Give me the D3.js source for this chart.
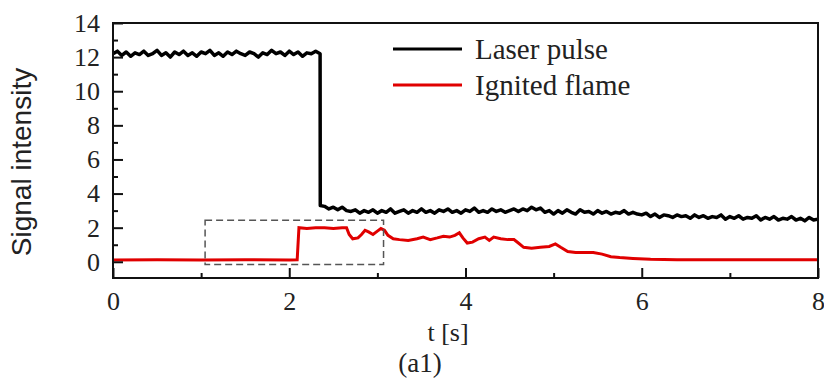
<!DOCTYPE html>
<html>
<head>
<meta charset="utf-8">
<script src="https://cdnjs.cloudflare.com/ajax/libs/d3/7.8.5/d3.min.js"></script>
<style>
    body { margin: 0; background: #fff; }
    svg { display: block; }
</style>
</head>
<body>
<script>
// signal traces, [t (s), intensity]
const laserPulse = [
    [0.00, 12.2], [0.05, 12.35], [0.10, 12.1], [0.15, 12.3], [0.20, 12.05], [0.25, 12.25],
    [0.30, 12.15], [0.35, 12.35], [0.40, 12.1], [0.45, 12.2], [0.50, 12.4], [0.55, 12.1],
    [0.60, 12.25], [0.65, 12.0], [0.70, 12.3], [0.75, 12.15], [0.80, 12.35], [0.85, 12.1],
    [0.90, 12.25], [0.95, 12.05], [1.00, 12.3], [1.05, 12.2], [1.10, 12.4], [1.15, 12.1],
    [1.20, 12.25], [1.25, 12.05], [1.30, 12.3], [1.35, 12.15], [1.40, 12.35], [1.45, 12.2],
    [1.50, 12.1], [1.55, 12.3], [1.60, 12.2], [1.65, 12.0], [1.70, 12.25], [1.75, 12.15],
    [1.80, 12.4], [1.85, 12.2], [1.90, 12.3], [1.95, 12.1], [2.00, 12.35], [2.05, 12.15],
    [2.10, 12.3], [2.15, 12.05], [2.20, 12.25], [2.25, 12.2], [2.30, 12.35], [2.35, 12.2],
    [2.352, 3.3], [2.40, 3.25], [2.45, 3.1], [2.50, 3.2], [2.55, 3.05], [2.60, 3.2],
    [2.65, 3.0], [2.70, 2.95], [2.75, 3.05], [2.80, 2.85], [2.85, 3.0], [2.90, 2.9],
    [2.95, 3.05], [3.00, 2.85], [3.05, 3.0], [3.10, 2.9], [3.15, 3.1], [3.20, 2.85],
    [3.25, 2.95], [3.30, 3.05], [3.35, 2.85], [3.40, 3.0], [3.45, 2.9], [3.50, 3.1],
    [3.55, 2.9], [3.60, 3.0], [3.65, 2.85], [3.70, 3.05], [3.75, 2.95], [3.80, 3.1],
    [3.85, 2.9], [3.90, 3.0], [3.95, 2.85], [4.00, 3.05], [4.05, 2.95], [4.10, 3.15],
    [4.15, 2.9], [4.20, 3.0], [4.25, 2.9], [4.30, 3.1], [4.35, 2.95], [4.40, 3.05],
    [4.45, 2.9], [4.50, 3.0], [4.55, 3.1], [4.60, 2.95], [4.65, 3.1], [4.70, 3.0],
    [4.75, 3.2], [4.80, 3.05], [4.85, 3.15], [4.90, 2.9], [4.95, 3.0], [5.00, 2.8],
    [5.05, 3.0], [5.10, 2.85], [5.15, 3.05], [5.20, 2.9], [5.25, 2.8], [5.30, 3.05],
    [5.35, 2.9], [5.40, 2.95], [5.45, 2.8], [5.50, 3.0], [5.55, 2.85], [5.60, 2.95],
    [5.65, 2.8], [5.70, 2.9], [5.75, 2.85], [5.80, 3.0], [5.85, 2.8], [5.90, 2.9],
    [5.95, 2.8], [6.00, 2.75], [6.05, 2.85], [6.10, 2.65], [6.15, 2.8], [6.20, 2.6],
    [6.25, 2.75], [6.30, 2.7], [6.35, 2.6], [6.40, 2.75], [6.45, 2.65], [6.50, 2.7],
    [6.55, 2.55], [6.60, 2.75], [6.65, 2.6], [6.70, 2.7], [6.75, 2.55], [6.80, 2.65],
    [6.85, 2.6], [6.90, 2.75], [6.95, 2.5], [7.00, 2.65], [7.05, 2.55], [7.10, 2.7],
    [7.15, 2.5], [7.20, 2.6], [7.25, 2.55], [7.30, 2.7], [7.35, 2.45], [7.40, 2.6],
    [7.45, 2.5], [7.50, 2.65], [7.55, 2.45], [7.60, 2.55], [7.65, 2.5], [7.70, 2.65],
    [7.75, 2.45], [7.80, 2.55], [7.85, 2.4], [7.90, 2.6], [7.95, 2.45], [8.00, 2.5]
];

const ignitedFlame = [
    [0.0, 0.1], [0.5, 0.12], [1.0, 0.1], [1.5, 0.12], [2.0, 0.1], [2.09, 0.12],
    [2.11, 2.0], [2.2, 1.95], [2.3, 2.0], [2.4, 2.0], [2.5, 1.95], [2.6, 2.0],
    [2.65, 2.0], [2.68, 1.6], [2.72, 1.35], [2.78, 1.4], [2.82, 1.6], [2.86, 1.85],
    [2.9, 1.75], [2.95, 1.6], [3.0, 1.8], [3.04, 1.95], [3.08, 1.85], [3.12, 1.55],
    [3.18, 1.35], [3.25, 1.3], [3.35, 1.25], [3.45, 1.35], [3.52, 1.45], [3.6, 1.3],
    [3.68, 1.4], [3.75, 1.5], [3.82, 1.45], [3.88, 1.55], [3.93, 1.7], [3.97, 1.4],
    [4.02, 1.1], [4.08, 1.15], [4.15, 1.35], [4.22, 1.45], [4.27, 1.25], [4.32, 1.45],
    [4.4, 1.35], [4.48, 1.3], [4.55, 1.3], [4.6, 1.1], [4.66, 0.85], [4.75, 0.8],
    [4.85, 0.85], [4.95, 0.9], [5.02, 1.05], [5.08, 0.85], [5.16, 0.6], [5.25, 0.55],
    [5.35, 0.55], [5.45, 0.55], [5.55, 0.45], [5.65, 0.3], [5.75, 0.25], [5.9, 0.2],
    [6.1, 0.15], [6.4, 0.12], [7.0, 0.12], [8.0, 0.12]
];

const xTicks = [0, 2, 4, 6, 8];
const xMinorTicks = [1, 3, 5, 7];
const yTicks = [0, 2, 4, 6, 8, 10, 12, 14];
const yMinorTicks = [1, 3, 5, 7, 9, 11, 13];

const legendItems = ["Laser pulse", "Ignited flame"];
const legendColors = ["#000000", "#e00000"];

// zoom box around the ignition (t, intensity)
const zoomBox = { t0: 1.045, t1: 3.07, v0: -0.16, v1: 2.43 };

const width = 824, height = 383;
const margin = { left: 113, right: 6, top: 23, bottom: 105 };

const svg = d3.select('body').append('svg')
    .attr('width', width)
    .attr('height', height);

const x = d3.scaleLinear().domain([0, 8]).range([margin.left, width - margin.right]);
const y = d3.scaleLinear().domain([-0.95, 14]).range([height - margin.bottom, margin.top]);

const serif = '"Liberation Serif", "Times New Roman", serif';

// traces
const line = d3.line().x(d => x(d[0])).y(d => y(d[1]));

svg.append('path')
    .datum(ignitedFlame)
    .attr('d', line)
    .attr('fill', 'none')
    .attr('stroke', legendColors[1])
    .attr('stroke-width', 3);

svg.append('path')
    .datum(laserPulse)
    .attr('d', line)
    .attr('fill', 'none')
    .attr('stroke', legendColors[0])
    .attr('stroke-width', 3.5)
    .attr('stroke-linejoin', 'round');

// dashed box
svg.append('rect')
    .attr('x', x(zoomBox.t0))
    .attr('y', y(zoomBox.v1))
    .attr('width', x(zoomBox.t1) - x(zoomBox.t0))
    .attr('height', y(zoomBox.v0) - y(zoomBox.v1))
    .attr('fill', 'none')
    .attr('stroke', '#555')
    .attr('stroke-width', 1.5)
    .attr('stroke-dasharray', '7,4');

// frame
svg.append('rect')
    .attr('x', x(0))
    .attr('y', y(14))
    .attr('width', x(8) - x(0))
    .attr('height', y(-0.95) - y(14))
    .attr('fill', 'none')
    .attr('stroke', '#111')
    .attr('stroke-width', 2);

// x axis, ticks pointing inward
const xAxis = svg.append('g')
    .attr('transform', `translate(0,${y(-0.95)})`)
    .call(d3.axisBottom(x).tickValues(xTicks).tickSize(-10).tickPadding(14).tickFormat(d3.format('d')));
xAxis.append('g')
    .call(d3.axisBottom(x).tickValues(xMinorTicks).tickSize(-5).tickFormat(''));

// y axis
const yAxis = svg.append('g')
    .attr('transform', `translate(${x(0)},0)`)
    .call(d3.axisLeft(y).tickValues(yTicks).tickSize(-10).tickPadding(13).tickFormat(d3.format('d')));
yAxis.append('g')
    .call(d3.axisLeft(y).tickValues(yMinorTicks).tickSize(-5).tickFormat(''));

svg.selectAll('.domain').remove();
svg.selectAll('.tick line').attr('stroke', '#111').attr('stroke-width', 2);
svg.selectAll('g').attr('font-family', null);
svg.selectAll('.tick text')
    .attr('font-family', serif)
    .style('font-family', serif)
    .style('font-size', '26px')
    .attr('fill', '#222');

// axis titles
svg.append('text')
    .attr('x', 448)
    .attr('y', 341)
    .attr('text-anchor', 'middle')
    .style('font-family', serif)
    .style('font-size', '26px')
    .attr('fill', '#222')
    .text('t [s]');

svg.append('text')
    .attr('transform', 'translate(31,162) rotate(-90)')
    .attr('text-anchor', 'middle')
    .style('font-family', '"Liberation Sans", Arial, sans-serif')
    .style('font-size', '28px')
    .attr('fill', '#222')
    .text('Signal intensity');

svg.append('text')
    .attr('x', 420)
    .attr('y', 372)
    .attr('text-anchor', 'middle')
    .style('font-family', serif)
    .style('font-size', '27px')
    .attr('fill', '#222')
    .text('(a1)');

// legend
const legend = svg.append('g');
legendItems.forEach((name, i) => {
    const ly = 49 + i * 36;
    legend.append('line')
        .attr('x1', 393).attr('x2', 462)
        .attr('y1', ly).attr('y2', ly)
        .attr('stroke', legendColors[i])
        .attr('stroke-width', 3);
    legend.append('text')
        .attr('x', 475)
        .attr('y', ly + 10)
        .style('font-family', serif)
        .style('font-size', '29px')
        .attr('fill', '#222')
        .text(name);
});
</script>
</body>
</html>
